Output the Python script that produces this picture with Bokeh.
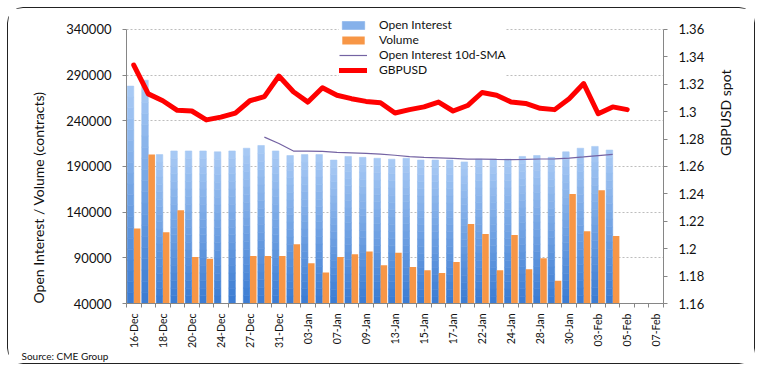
import numpy as np
from math import pi
from bokeh.plotting import figure
from bokeh.models import (Range1d, LinearAxis, FixedTicker, CustomJSTickFormatter,
                          NumeralTickFormatter, Legend, LegendItem, Title, ColumnDataSource)
from bokeh.embed import file_html
from bokeh.resources import INLINE

# ---------------- data ----------------
dates = ["16-Dec", "17-Dec", "18-Dec", "19-Dec", "20-Dec", "23-Dec", "24-Dec", "26-Dec",
         "27-Dec", "30-Dec", "31-Dec", "02-Jan", "03-Jan", "06-Jan", "07-Jan", "08-Jan",
         "09-Jan", "10-Jan", "13-Jan", "14-Jan", "15-Jan", "16-Jan", "17-Jan", "21-Jan",
         "22-Jan", "23-Jan", "24-Jan", "27-Jan", "28-Jan", "29-Jan", "30-Jan", "31-Jan",
         "03-Feb", "04-Feb", "05-Feb", "06-Feb", "07-Feb"]

open_interest = [278000, 284500, 203000, 207000, 207000, 207000, 206000, 207000,
                 210000, 213000, 207000, 202000, 203000, 203000, 197000, 201000,
                 200000, 199000, 198000, 199000, 197000, 197000, 197000, 195000,
                 198000, 198000, 198000, 201000, 202000, 200000, 206000, 210000,
                 212000, 208000]

volume = [122000, 203000, 118000, 142000, 91000, 89000, None, None,
          92000, 92000, 92000, 105000, 84000, 74000, 91000, 94000,
          97000, 82000, 95500, 80000, 76500, 73500, 85500, 127000,
          116000, 76500, 115000, 77500, 89500, 65000, 160000, 119000,
          164000, 114000]

sma_dates = dates[9:34]
sma_10d = [222200, 215100, 206900, 206900, 206500, 205500, 204900, 204300,
           203500, 202300, 200900, 199900, 199400, 198800, 198000, 198100,
           197800, 197600, 197800, 198200, 198300, 199200, 200500, 202000,
           203300]

gbpusd = [1.334, 1.313, 1.308, 1.301, 1.3005, 1.294, 1.296, 1.299,
          1.308, 1.311, 1.326, 1.3145, 1.307, 1.3175, 1.312, 1.3095,
          1.3075, 1.3065, 1.299, 1.3015, 1.3035, 1.307, 1.3005, 1.3045,
          1.314, 1.312, 1.307, 1.306, 1.3025, 1.3015, 1.3095, 1.3205,
          1.2985, 1.3035, 1.3015]

left_ticks = [40000, 90000, 140000, 190000, 240000, 290000, 340000]
right_ticks = [1.16, 1.18, 1.20, 1.22, 1.24, 1.26, 1.28, 1.30, 1.32, 1.34, 1.36]
label_dates = dates[::2]

FONT = "Lato"
AXIS_GREY = "#868686"
TXT = "#111111"

pos = {d: i for i, d in enumerate(dates)}

# The plotting frame reaches above the top tick so the legend stays inside it;
# the axis lines are bounded to the tick span.
AXIS_PX = 274.3      # pixel span between the lowest and highest tick
FRAME_PX = 295.3     # full frame height
stretch = FRAME_PX / AXIS_PX
y_lo, y_hi = left_ticks[0], left_ticks[-1]
f_lo, f_hi = right_ticks[0], right_ticks[-1]

p = figure(width=748, height=357, output_backend="svg", toolbar_location=None,
           x_range=Range1d(-0.5, len(dates) - 0.5),
           y_range=Range1d(y_lo, y_lo + (y_hi - y_lo) * stretch),
           min_border_left=118, min_border_right=93, min_border_top=0, min_border_bottom=62,
           outline_line_color=None, background_fill_color="white", border_fill_color="white")
p.styles = {"border": "1px solid #222222", "border-radius": "16px",
            "margin-left": "7px", "margin-top": "7px"}

# ---------------- open interest bars with vertical gradient ----------------
oi = np.array(open_interest, dtype=float)
base = y_lo
x_oi = np.arange(len(oi)) - 0.225
N = 20
c_bot = np.array([58, 123, 210])
c_top = np.array([170, 203, 245])
xs, bots, tops, cols = [], [], [], []
for k in range(N):
    f0, f1 = k / N, (k + 1) / N
    c = c_bot + (c_top - c_bot) * ((k + 0.5) / N)
    hexc = "#%02x%02x%02x" % tuple(int(round(v)) for v in c)
    xs.extend(x_oi)
    bots.extend(base + (oi - base) * f0)
    tops.extend(base + (oi - base) * f1)
    cols.extend([hexc] * len(oi))
src_oi = ColumnDataSource(dict(x=xs, bottom=bots, top=tops, color=cols))
r_oi = p.vbar(x="x", bottom="bottom", top="top", width=0.45, source=src_oi,
              fill_color="color", line_color="color", line_width=0.6)

# ---------------- volume bars ----------------
vol = np.array([np.nan if v is None else v for v in volume], dtype=float)
src_vol = ColumnDataSource(dict(x=np.arange(len(vol)) + 0.235, top=vol))
r_vol = p.vbar(x="x", top="top", bottom=base, width=0.45, source=src_vol,
               fill_color="#f79646", line_color=None)

# ---------------- SMA line ----------------
r_sma = p.line(x=[pos[d] for d in sma_dates], y=sma_10d, line_color="#7463a3", line_width=1.2)

# ---------------- GBPUSD on the right axis ----------------
p.extra_y_ranges = {"fx": Range1d(f_lo, f_lo + (f_hi - f_lo) * stretch)}
r_fx = p.line(x=list(range(len(gbpusd))), y=gbpusd, y_range_name="fx",
              line_color="#ff0000", line_width=5, line_join="round", line_cap="round")

# ---------------- axes ----------------
xa = p.xaxis[0]
xa.ticker = FixedTicker(ticks=[pos[d] for d in label_dates],
                        minor_ticks=[i - 0.5 for i in range(len(dates) + 1)])
xa.major_label_overrides = {pos[d]: d for d in label_dates}
xa.major_label_orientation = pi / 2
xa.major_tick_out = 0
xa.major_tick_in = 0
xa.minor_tick_out = 4
xa.minor_tick_in = 0
xa.minor_tick_line_color = AXIS_GREY
xa.axis_line_color = AXIS_GREY
xa.major_label_standoff = 6
xa.major_label_text_font = FONT
xa.major_label_text_font_size = "10.5px"
xa.major_label_text_color = TXT

ya = p.yaxis[0]
ya.bounds = (y_lo, y_hi)
ya.ticker = FixedTicker(ticks=left_ticks)
ya.formatter = NumeralTickFormatter(format="0")
ya.major_tick_out = 4
ya.major_tick_in = 0
ya.minor_tick_out = 0
ya.minor_tick_in = 0
ya.major_tick_line_color = AXIS_GREY
ya.axis_line_color = AXIS_GREY
ya.major_label_standoff = 11
ya.major_label_text_font = FONT
ya.major_label_text_font_size = "13px"
ya.major_label_text_color = TXT

ra = LinearAxis(y_range_name="fx", ticker=FixedTicker(ticks=right_ticks), bounds=(f_lo, f_hi),
                formatter=CustomJSTickFormatter(code="return String(Number(tick.toFixed(2)));"))
ra.major_tick_out = 4
ra.major_tick_in = 0
ra.minor_tick_out = 0
ra.minor_tick_in = 0
ra.major_tick_line_color = AXIS_GREY
ra.axis_line_color = AXIS_GREY
ra.major_label_standoff = 11
ra.major_label_text_font = FONT
ra.major_label_text_font_size = "13px"
ra.major_label_text_color = TXT
ra.axis_label = "GBPUSD spot"
ra.axis_label_orientation = pi / 2
ra.axis_label_standoff = 18
ra.axis_label_text_font = FONT
ra.axis_label_text_font_size = "14px"
ra.axis_label_text_font_style = "normal"
ra.axis_label_text_color = TXT
p.add_layout(ra, "right")

p.xgrid.visible = False
p.ygrid.grid_line_color = "#bdbdbd"
p.ygrid.grid_line_dash = "2 2"
p.ygrid.ticker = FixedTicker(ticks=left_ticks)

# ---------------- legend ----------------
mid = len(oi) * 13  # a mid-tone gradient band for the legend swatch
legend = Legend(items=[
    LegendItem(label="Open Interest", renderers=[r_oi], index=mid),
    LegendItem(label="Volume", renderers=[r_vol], index=0),
    LegendItem(label="Open Interest 10d-SMA", renderers=[r_sma]),
    LegendItem(label="GBPUSD", renderers=[r_fx]),
], location=(213, 226), orientation="vertical", padding=8, margin=0, spacing=0,
    glyph_width=28, glyph_height=10, label_standoff=12, label_height=15,
    label_text_font=FONT, label_text_font_size="12px", label_text_color=TXT,
    background_fill_color="white", background_fill_alpha=1.0, border_line_color=None)
p.add_layout(legend)

# ---------------- titles ----------------
p.add_layout(Title(text="Open Interest / Volume (contracts)", align="left", standoff=30,
                   vertical_align="top",
                   text_font=FONT, text_font_size="14px", text_font_style="normal",
                   text_color=TXT), "left")
p.add_layout(Title(text="Source: CME Group", align="left", offset=-105, standoff=-20,
                   text_font=FONT, text_font_size="10px", text_font_style="normal",
                   text_color=TXT), "below")

open("out.html", "w").write(file_html(p, INLINE))
